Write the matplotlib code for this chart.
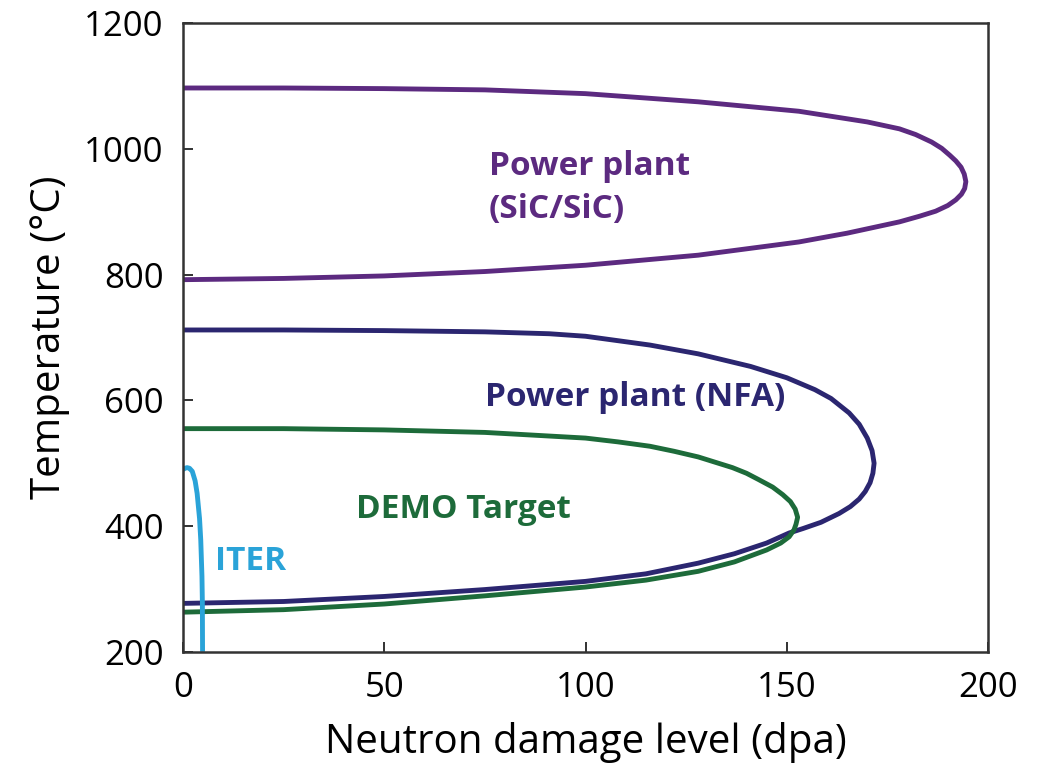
import matplotlib
matplotlib.use("Agg")
import matplotlib.pyplot as plt

plt.rcParams['font.family'] = ['Open Sans', 'DejaVu Sans']

# ---- data (dpa, temperature °C) ----
sic_dpa = [0, 25, 50, 75, 100, 128, 153, 170, 178, 182, 186, 188.5, 190.5, 192, 193.3,
           194.1, 194.5, 194.2, 193.4, 192, 190, 187, 183, 178, 165, 153, 128, 100,
           75, 50, 25, 0]
sic_temp = [1097, 1097, 1096, 1094, 1088, 1075, 1060, 1043, 1032, 1023, 1011, 1001, 990, 981, 971,
            960, 948, 937, 928, 919, 910, 901, 893, 884, 866, 852, 831, 815,
            805, 798, 794, 792]

nfa_dpa = [0, 25, 50, 75, 91, 100, 116, 128, 141, 150, 157, 161, 165.5, 168, 170,
           171.2, 171.7, 171.4, 170.7, 169.5, 168, 165.8, 163, 158.5, 154, 150.6, 145,
           137, 128, 115, 100, 75, 50, 25, 0]
nfa_temp = [712, 712, 711, 709, 706, 702, 688, 674, 654, 636, 617, 603, 580, 562, 540,
            520, 500, 484, 469, 455, 443, 431, 420, 406, 396, 389, 373,
            356, 341, 324, 312, 299, 288, 280, 277]

demo_dpa = [0, 25, 50, 75, 100, 108, 116, 122, 128, 136.5, 140, 143, 146.5, 149, 150.9,
            152.1, 152.7, 152.3, 151.8, 150.6, 148.5, 145, 137, 128, 115, 100, 75, 50, 25, 0]
demo_temp = [555, 555, 553, 549, 540, 534, 527, 519, 510, 493, 484, 474, 462, 450, 439,
             427, 414, 403, 394, 383, 373, 362, 343, 328, 314, 303, 289, 276, 267, 263]

iter_dpa = [0, 0.5, 1.0, 1.6, 2.3, 3.0, 3.5, 4.1, 4.4, 4.7, 4.8, 4.85]
iter_temp = [490, 492, 493, 492, 487, 472, 452, 412, 378, 320, 280, 200]

x_ticks = [0, 50, 100, 150, 200]
y_ticks = [200, 400, 600, 800, 1000, 1200]

labels = ["Power plant\n(SiC/SiC)", "Power plant (NFA)", "DEMO Target", "ITER"]
label_pos = [(76, 938), (75, 605), (43, 426), (8, 343)]

c_sic = '#5c2a80'
c_nfa = '#2b2670'
c_demo = '#1d6b3a'
c_iter = '#2aa3d8'
colors = [c_sic, c_nfa, c_demo, c_iter]

fig = plt.figure(figsize=(10.4, 7.75), dpi=100)
ax = fig.add_axes([0.176, 0.159, 0.774, 0.811])

lw = 3.5
for xs, ys, c in [(sic_dpa, sic_temp, c_sic), (nfa_dpa, nfa_temp, c_nfa),
                  (demo_dpa, demo_temp, c_demo), (iter_dpa, iter_temp, c_iter)]:
    ax.plot(xs, ys, color=c, lw=lw, solid_joinstyle='round', solid_capstyle='butt')

for txt, (x, y), c in zip(labels, label_pos, colors):
    ax.text(x, y, txt, color=c, fontsize=24, fontweight='bold', ha='left', va='center',
            linespacing=1.4)

ax.set_xlim(0, 200)
ax.set_ylim(200, 1200)
ax.set_xticks(x_ticks)
ax.set_yticks(y_ticks)
ax.tick_params(direction='in', length=7, width=1.3, labelsize=25, color='#222222', pad=14)
for s in ax.spines.values():
    s.set_linewidth(1.8)
    s.set_color('#333333')

ax.set_xlabel('Neutron damage level (dpa)', fontsize=29, labelpad=12)
ax.set_ylabel('Temperature (°C)', fontsize=29, labelpad=10)

fig.savefig('out.png', dpi=100)
